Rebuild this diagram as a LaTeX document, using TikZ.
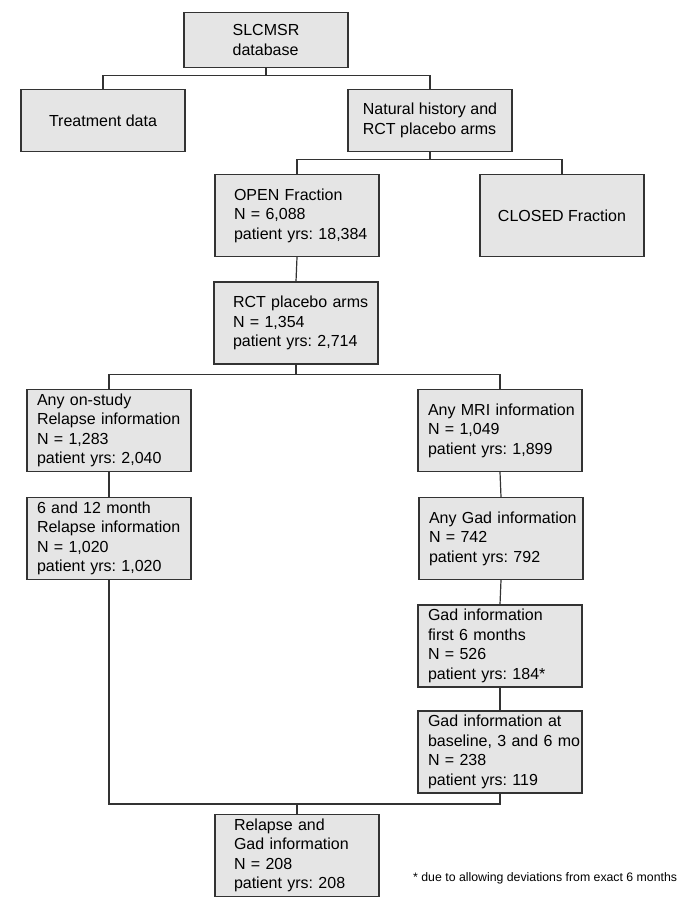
\documentclass[tikz,border=0pt]{standalone}
\usepackage{fontspec}
\setmainfont{Liberation Sans}
\usepackage{tikz}
\frenchspacing
\newcommand{\boxfont}{\fontsize{16}{19.5}\selectfont}
\newcommand{\notefont}{\fontsize{12.3}{14}\selectfont}
\tikzset{
    % Flow box
    flowbox/.style={draw=black!80,fill=gray!20,line width=1.2pt,minimum width=164pt,minimum height=82pt,inner ysep=3pt,font=\boxfont},
    % Box with text set close to the left edge
    listbox/.style={flowbox,align=left,inner xsep=0pt,text width=164pt,execute at begin node={\leftskip=10pt}},
    % Box with indented text
    indentbox/.style={flowbox,align=left,inner xsep=0pt,text width=164pt,execute at begin node={\leftskip=19pt}},
    % Box with centred text block
    headbox/.style={flowbox,align=left},
    % Connector line
    link/.style={draw=black!80,line width=1.2pt}
}

\begin{document}
\begin{tikzpicture}[x=1pt,y=-1pt]
    \useasboundingbox (0,0) rectangle (682,902);

    % Database and first split
    \node[headbox,minimum height=55pt] (db) at (266,40) {SLCMSR\\database};
    \node[headbox,minimum height=62pt] (treat) at (103,120.5) {Treatment data};
    \node[headbox,minimum height=62pt] (nat) at (430,120.5) {Natural history and\\RCT placebo arms};

    % Fractions
    \node[indentbox] (open) at (297,215.5) {OPEN Fraction\\N = 6,088\\patient yrs: 18,384};
    \node[headbox] (closed) at (562,215.5) {CLOSED Fraction};
    \node[indentbox] (rct) at (296,323) {RCT placebo arms\\N = 1,354\\patient yrs: 2,714};

    % Relapse branch
    \node[listbox] (study) at (109,430.5) {Any on-study\\Relapse information\\N = 1,283\\patient yrs: 2,040};
    \node[listbox] (month) at (109,538.5) {6 and 12 month\\Relapse information\\N = 1,020\\patient yrs: 1,020};

    % MRI branch
    \node[listbox] (mri) at (500,430.5) {Any MRI information\\N = 1,049\\patient yrs: 1,899};
    \node[listbox] (gad) at (501,538.5) {Any Gad information\\N = 742\\patient yrs: 792};
    \node[listbox] (first) at (500,646) {Gad information\\first 6 months\\N = 526\\patient yrs: 184*};
    \node[listbox] (base) at (500,752) {Gad information at\\baseline, 3 and 6 mo\\N = 238\\patient yrs: 119};

    % Merged result and footnote
    \node[indentbox] (both) at (297,855.5) {Relapse and\\Gad information\\N = 208\\patient yrs: 208};
    \node[anchor=west,inner sep=0pt,font=\notefont] (note) at (413,878) {* due to allowing deviations from exact 6 months};

    % Split points
    \path (db.south) ++(0,7.5) coordinate (split1);
    \path (nat.south) ++(0,7.5) coordinate (split2);
    \path (rct.south) ++(0,10) coordinate (split3);
    \path (both.north) ++(0,-10) coordinate (merge);

    % Connectors
    \draw[link] (db.south) -- (split1) -| (treat.north);
    \draw[link] (split1) -| (nat.north);
    \draw[link] (nat.south) -- (split2) -| (open.north);
    \draw[link] (split2) -| (closed.north);
    \draw[link] (open.south) -- (rct.north);
    \draw[link] (rct.south) -- (split3) -| (study.north);
    \draw[link] (split3) -| (mri.north);
    \draw[link] (study.south) -- (month.north);
    \draw[link] (mri.south) -- (gad.north);
    \draw[link] (gad.south) -- (first.north);
    \draw[link] (first.south) -- (base.north);
    \draw[link] (month.south) |- (merge) -- (both.north);
    \draw[link] (base.south) |- (merge);
\end{tikzpicture}
\end{document}
